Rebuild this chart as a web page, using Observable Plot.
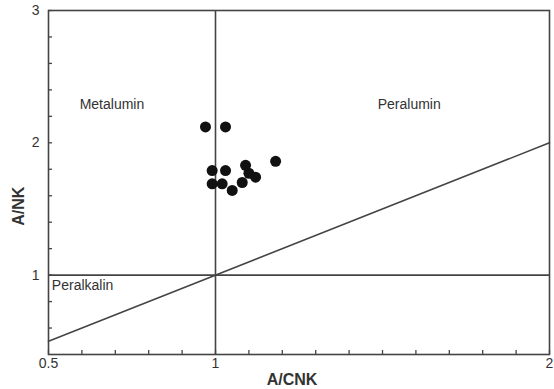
<!DOCTYPE html>
<html>
<head>
<meta charset="utf-8">
<script src="https://cdn.jsdelivr.net/npm/d3@7"></script>
<script src="https://cdn.jsdelivr.net/npm/@observablehq/plot@0.6"></script>
<style>
  html, body { margin: 0; padding: 0; background: #fff; }
  #chart svg { display: block; }
</style>
</head>
<body>
<div id="chart"></div>
<script>
// Sample data: A/CNK vs A/NK
const acnk = [0.97, 1.03, 0.99, 1.03, 0.99, 1.02, 1.09, 1.18, 1.10, 1.12, 1.08, 1.05];
const ank  = [2.12, 2.12, 1.79, 1.79, 1.69, 1.69, 1.83, 1.86, 1.77, 1.74, 1.70, 1.64];

// Axis ticks
const xTickLabels = [0.5, 1, 2];
const yTickLabels = [1, 2, 3];
const xMinorTicks = [0.6, 0.7, 0.8, 0.9, 1.1, 1.2, 1.3, 1.4, 1.5, 1.6, 1.7, 1.8, 1.9];
const yMinorTicks = [0.6, 0.8, 1.2, 1.4, 1.6, 1.8, 2.2, 2.4, 2.6, 2.8];

// Axis titles
const xTitle = "A/CNK";
const yTitle = "A/NK";
const yTitleAt = 1.52; // y position (data units) where the rotated title is centred

// Field boundaries
const boundaryX = [1];
const boundaryY = [1];
const lineX = [0.5, 2];
const lineY = [0.5, 2];

// Field labels
const fieldNames = ["Metalumin", "Peralumin", "Peralkalin"];
const fieldX = [0.69, 1.58, 0.51];
const fieldY = [2.29, 2.29, 0.92];
const fieldAnchor = ["middle", "middle", "start"];

const points = acnk.map((x, i) => ({x, y: ank[i]}));
const diag = lineX.map((x, i) => ({x, y: lineY[i]}));
const fields = fieldNames.map((t, i) => ({t, x: fieldX[i], y: fieldY[i], a: fieldAnchor[i]}));

const stroke = "#444";
const textFill = "#333";

const chart = Plot.plot({
  width: 554,
  height: 389,
  marginLeft: 48,
  marginRight: 5,
  marginTop: 10,
  marginBottom: 35,
  style: {fontFamily: "Liberation Sans, Arial, sans-serif", fontSize: "13px", color: textFill, background: "#fff"},
  x: {domain: [0.5, 2]},
  y: {domain: [0.4, 3]},
  marks: [
    Plot.ruleX(boundaryX, {stroke, strokeWidth: 1.6}),
    Plot.ruleY(boundaryY, {stroke, strokeWidth: 1.6}),
    Plot.line(diag, {x: "x", y: "y", stroke, strokeWidth: 1.6}),
    Plot.frame({stroke, strokeWidth: 1.6}),
    // minor + major tick lines, pointing inward
    Plot.axisX([...xMinorTicks, ...xTickLabels], {tickSize: -4, tickFormat: () => "", stroke, strokeWidth: 1.3, label: null}),
    Plot.axisY([...yMinorTicks, ...yTickLabels], {tickSize: -4, tickFormat: () => "", stroke, strokeWidth: 1.3, label: null}),
    // tick labels
    Plot.axisX(xTickLabels, {tickSize: 0, tickPadding: 4, tickFormat: d => String(d), fontSize: 14, fill: textFill, label: null}),
    Plot.axisY(yTickLabels, {tickSize: 0, tickPadding: 9, tickFormat: d => String(d), fontSize: 14, fill: textFill, label: null}),
    // axis titles
    Plot.text([xTitle], {frameAnchor: "bottom", text: d => d, dy: 25, dx: -7, textAnchor: "middle", fontSize: 16, fontWeight: "bold", fill: textFill, lineAnchor: "middle"}),
    Plot.text([yTitle], {frameAnchor: "left", y: () => yTitleAt, text: d => d, rotate: -90, dx: -30, textAnchor: "middle", fontSize: 16, fontWeight: "bold", fill: textFill, lineAnchor: "middle"}),
    Plot.dot(points, {x: "x", y: "y", r: 5.5, fill: "#111", stroke: "none"}),
    Plot.text(fields.filter(d => d.a === "middle"), {x: "x", y: "y", text: "t", textAnchor: "middle", fontSize: 14, fill: textFill}),
    Plot.text(fields.filter(d => d.a === "start"), {x: "x", y: "y", text: "t", textAnchor: "start", fontSize: 14, fill: textFill})
  ]
});
document.getElementById("chart").appendChild(chart);
</script>
</body>
</html>
